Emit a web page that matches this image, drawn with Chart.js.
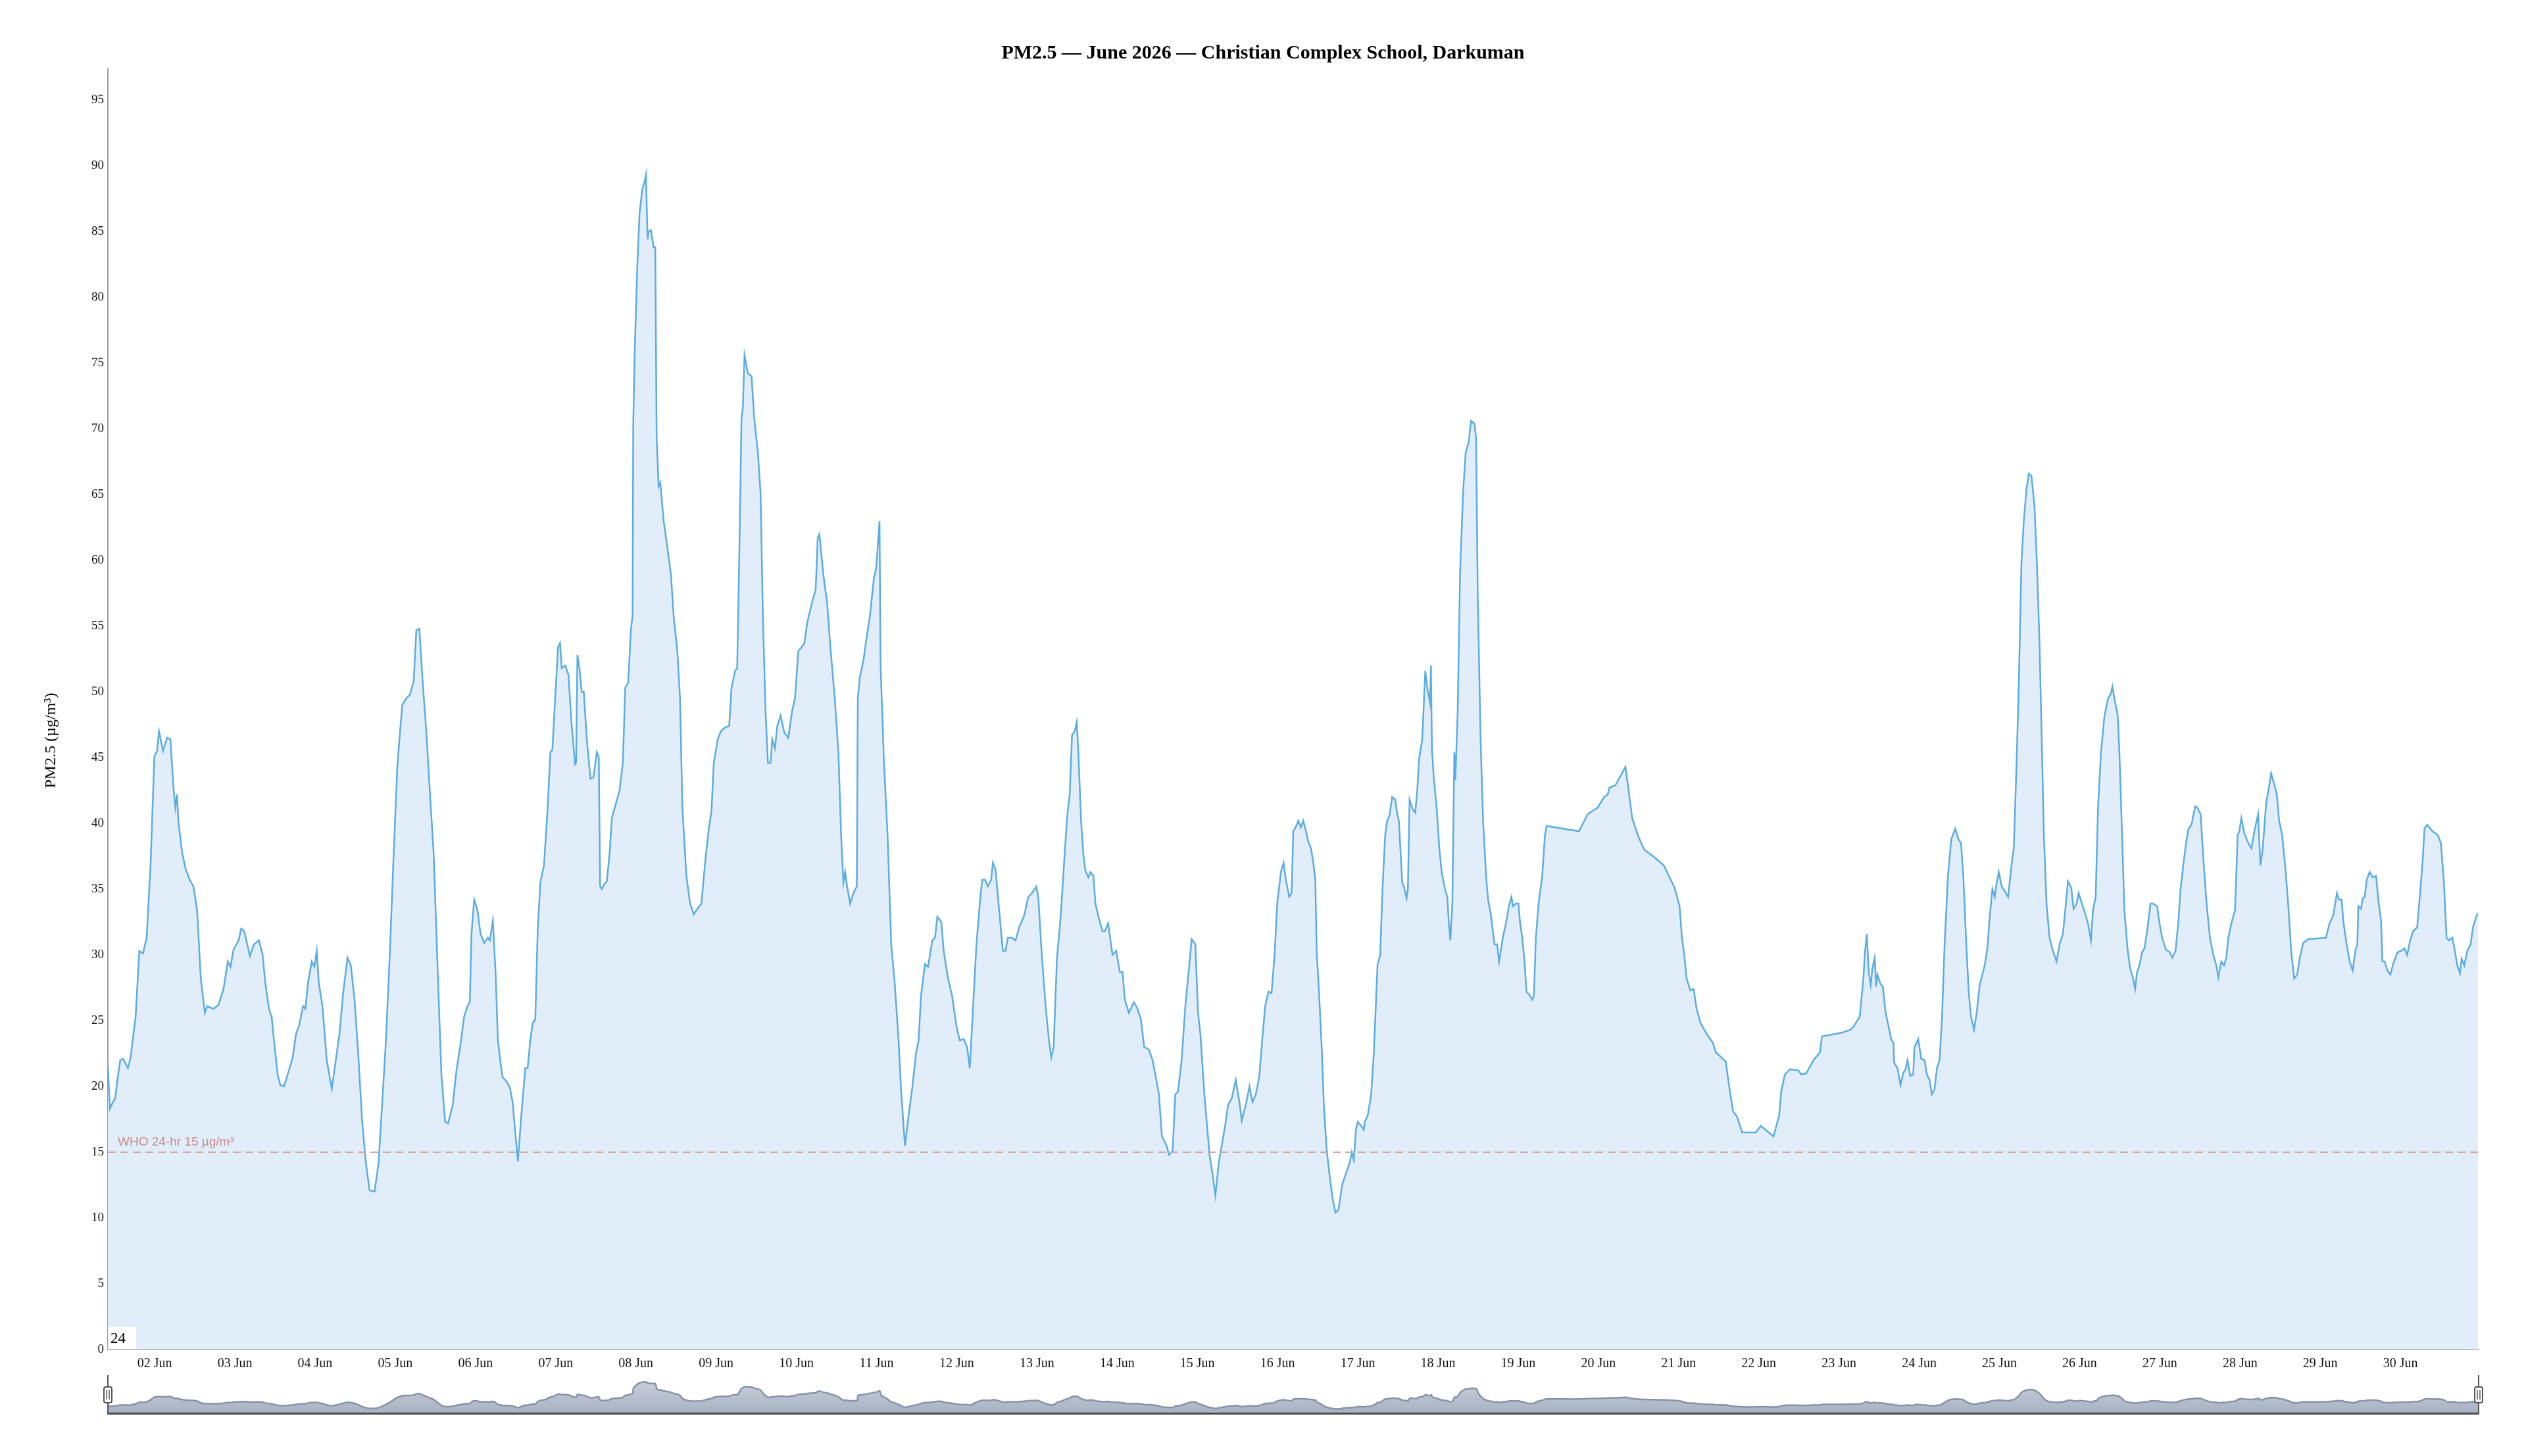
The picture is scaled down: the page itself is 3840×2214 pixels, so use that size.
<!DOCTYPE html>
<html><head><meta charset="utf-8">
<script src="https://cdn.jsdelivr.net/npm/chart.js@4.4.1/dist/chart.umd.min.js"></script>
<style>
html,body{margin:0;padding:0;background:#fff;}
#wrap{position:relative;width:3840px;height:2214px;overflow:hidden;}
#main{position:absolute;left:0;top:0;width:3840px;height:2214px;}
#mini{position:absolute;left:0;top:2085px;width:3840px;height:75px;}
</style></head><body>
<div id="wrap"><canvas id="main" width="3840" height="2214"></canvas><canvas id="mini" width="3840" height="75"></canvas></div>
<script>
// ---------- texts ----------
const TITLE = 'PM2.5 — June 2026 — Christian Complex School, Darkuman';
const Y_TITLE = 'PM2.5 (µg/m³)';
const WHO_LIMIT = 15;
const WHO_LABEL = 'WHO 24-hr 15 µg/m³';
const CORNER_LABEL = '24';

// ---------- axes ----------
const xRange = [10, 719.2];            // hours since 01 Jun 00:00
const yMax = 97.35;
const yTicks = [0,5,10,15,20,25,30,35,40,45,50,55,60,65,70,75,80,85,90,95];
const dayTicks = [24,48,72,96,120,144,168,192,216,240,264,288,312,336,360,384,408,432,456,480,504,528,552,576,600,624,648,672,696];
const dayLabels = ['02 Jun','03 Jun','04 Jun','05 Jun','06 Jun','07 Jun','08 Jun','09 Jun','10 Jun','11 Jun','12 Jun','13 Jun','14 Jun','15 Jun','16 Jun','17 Jun','18 Jun','19 Jun','20 Jun','21 Jun','22 Jun','23 Jun','24 Jun','25 Jun','26 Jun','27 Jun','28 Jun','29 Jun','30 Jun'];

// ---------- readings: [hour since 01 Jun 00:00, PM2.5 µg/m³] ----------
const seg1 = [[10,21.5],[10.6,18.3],[11.5,18.8],[12.2,19.1],[12.8,20.4],[13.7,22.0],[14.5,22.1],[16.0,21.4],[16.8,22.2],[18.3,25.3],[19.4,30.3],[20.5,30.1],[21.6,31.3],[22.8,37.0],[23.9,45.1],[24.7,45.5],[25.3,47.0],[26.5,45.5],[27.7,46.5],[28.7,46.4],[29.6,42.8],[30.2,41.2],[30.7,42.2],[31.1,40.1],[32.2,37.8],[33.3,36.5],[34.5,35.7],[35.6,35.2],[36.7,33.4],[37.8,28.2],[39.0,25.6],[39.7,26.1],[41.6,25.9],[43.1,26.2],[44.6,27.4],[45.9,29.5],[46.7,29.1],[47.6,30.4],[49.1,31.1],[49.9,32.0],[50.8,31.8],[52.5,29.9],[53.7,30.8],[55.2,31.1],[56.3,30.0],[57.1,27.9],[58.2,25.9],[59.0,25.3],[59.7,23.5],[60.8,20.9],[61.6,20.1],[62.7,20.0],[63.8,20.9],[65.3,22.2],[66.3,24.0],[67.2,24.6],[68.4,26.1],[69.1,25.9],[69.9,27.9],[71.0,29.5],[71.8,29.1],[72.5,30.3],[73.1,27.9],[74.2,26.1],[75.5,22.0],[77.0,19.8],[78.2,22.0],[79.3,24.0],[80.4,27.1],[81.7,29.8],[82.7,29.2],[83.8,26.6],[84.9,22.5],[86.1,17.3],[87.2,14.2],[88.3,12.1],[89.8,12.0],[91.0,14.2],[92.1,18.8],[93.2,23.5],[94.4,30.3],[95.5,37.6],[96.6,44.3],[97.4,46.9],[98.1,49.0],[99.3,49.5],[100.4,49.8],[101.5,50.8],[102.3,54.7],[103.2,54.8],[104.1,51.1],[105.3,46.9],[106.4,42.2],[107.5,37.6],[108.7,28.7],[109.8,20.9],[110.9,17.3],[111.8,17.2],[113.2,18.6],[114.3,21.2],[115.4,23.0],[116.6,25.3],[117.6,26.1],[118.3,26.4],[118.8,31.6],[119.6,34.2],[120.6,33.4],[121.5,31.6],[122.6,30.9],[123.7,31.3],[124.3,31.1],[125.2,32.6],[126.0,28.7],[126.7,23.5]];
const seg2 = [[127.5,21.8],[128.1,20.7],[129.2,20.4],[130.3,19.9],[131.1,18.8],[131.8,16.8],[132.7,14.3],[133.7,17.8],[134.9,21.4],[135.6,21.4],[136.4,23.5],[137.1,24.8],[137.9,25.1],[138.6,31.8],[139.4,35.5],[140.5,36.8],[141.6,41.2],[142.4,45.4],[143.0,45.6],[143.9,49.8],[144.7,53.4],[145.3,53.7],[145.8,51.8],[146.9,52.0],[147.8,51.3],[148.8,47.4],[149.8,44.5],[150.1,44.6],[150.5,52.8],[151.1,51.8],[151.8,50.0],[152.4,50.0],[153.3,46.4],[154.4,43.4],[155.3,43.5],[156.3,45.4],[156.9,45.0],[157.3,35.2],[157.8,35.0],[158.6,35.4],[159.3,35.6],[160.1,37.6],[160.8,40.4],[162.0,41.5],[163.1,42.5],[164.1,44.6],[164.8,50.3],[165.7,50.7],[166.5,54.7],[167.0,55.8],[167.2,70.3],[167.6,75.5],[168.4,82.3],[169.1,86.4],[169.9,88.2],[170.6,88.8],[171.0,89.3],[171.5,84.4],[171.8,85.0],[172.5,85.1],[173.3,83.8],[173.8,83.8],[174.2,69.3],[174.8,65.6],[175.3,65.9],[176.3,63.0],[177.4,61.0],[178.5,58.9],[179.3,55.7],[180.4,53.1],[181.2,49.5],[181.9,41.2],[183.1,36.0],[184.2,33.9],[185.3,33.1],[186.4,33.5],[187.6,33.9],[188.7,37.0],[189.8,39.6],[190.6,40.9],[191.3,44.6],[192.5,46.4],[193.4,47.0],[194.7,47.3],[195.9,47.4],[196.6,50.3],[197.7,51.6],[198.3,51.8],[198.9,59.9],[199.6,70.8],[200.0,71.6],[200.5,75.6],[201.5,74.2],[202.6,74.0],[203.4,70.8],[204.5,68.2],[205.3,65.1],[206.0,55.7],[206.8,48.5],[207.5,44.6],[208.3,44.6],[208.8,46.4],[209.6,45.7],[210.3,47.4],[211.3,48.2],[212.4,46.9],[213.6,46.5],[214.7,48.5],[215.6,49.5],[216.6,53.1],[217.3,53.3],[218.4,53.7],[219.3,55.3],[220.7,56.8],[221.8,57.8],[222.4,61.7],[222.9,62.0],[224.1,58.9],[225.2,56.8],[226.3,53.1],[227.5,49.5],[228.6,45.4],[229.4,39.1],[230.1,35.5],[230.6,36.3],[231.2,35.2],[232.1,33.9],[233.1,34.7],[234.1,35.2],[234.4,49.5],[235.0,51.1],[236.1,52.4],[236.9,53.9],[238.0,55.7],[239.2,58.6],[239.9,59.4],[240.9,63.0],[241.2,52.1],[242.2,44.8],[243.3,39.1],[244.4,30.8],[245.4,28.0]];
const seg3 = [[246.6,23.5],[247.3,19.9],[248.5,15.5],[249.6,17.8],[250.7,19.9],[251.8,22.5],[252.6,23.5],[253.3,26.9],[254.5,29.3],[255.4,29.1],[256.7,31.1],[257.5,31.3],[258.2,32.9],[259.4,32.5],[260.1,30.3],[261.4,28.2],[262.6,26.9],[263.9,24.6],[264.9,23.5],[266.1,23.6],[267.1,23.0],[267.9,21.4],[268.8,25.6],[269.9,30.8],[270.9,33.9],[271.6,35.7],[272.5,35.7],[273.3,35.2],[274.3,35.7],[274.8,37.0],[275.6,36.5],[276.7,33.4],[277.8,30.3],[278.6,30.3],[279.3,31.3],[280.5,31.3],[281.6,31.1],[282.7,32.1],[284.2,33.0],[285.4,34.4],[286.5,34.7],[287.8,35.2],[288.4,34.4],[289.5,29.8],[290.6,26.1],[291.6,23.5],[292.3,22.2],[293.0,23.0],[294.0,29.8],[295.1,32.9],[296.0,36.5],[297.0,40.4],[297.8,42.2],[298.5,46.7],[299.3,47.0],[299.9,47.7],[300.4,45.4],[301.2,40.2],[301.9,37.6],[302.5,36.4],[303.4,35.9],[304.0,36.3],[304.9,36.0],[305.5,33.9],[306.4,32.9],[307.6,31.8],[308.3,31.8],[309.3,32.4],[310.6,30.0],[311.7,30.3],[312.8,28.7],[313.6,28.7],[314.3,26.6],[315.5,25.6],[317.0,26.4],[318.1,25.9],[319.1,25.1],[320.1,23.0],[321.5,22.8],[322.6,22.0],[323.8,20.4],[324.5,19.4],[325.4,16.2],[326.8,15.5],[327.5,14.8],[328.6,15.1],[329.4,19.4],[330.2,19.6],[331.3,22.0],[332.4,26.1],[333.5,29.0],[334.3,31.2],[335.4,30.8],[336.2,25.6],[336.9,24.0],[338.1,19.4],[338.8,17.3],[339.7,14.7],[340.7,13.1],[341.4,11.7],[342.4,14.2],[343.3,15.5],[344.5,17.3],[345.2,18.6],[346.3,19.1],[347.5,20.5],[348.6,18.8],[349.3,17.4],[350.5,18.6],[351.6,20.0],[352.5,18.8],[353.5,19.4],[354.5,20.7],[355.4,23.5],[356.3,26.1],[357.3,27.2],[358.2,27.1],[359.1,30.0],[359.9,33.9],[361.0,36.3],[361.8,37.0],[362.5,35.7],[363.5,34.4]];
const seg4 = [[364.2,34.7],[364.7,39.4],[365.4,39.7],[366.2,40.2],[367.0,39.7],[367.7,40.2],[368.5,39.4],[369.2,38.6],[370.0,38.1],[370.7,37.0],[371.3,35.7],[371.7,30.3],[372.4,27.2],[373.2,23.0],[373.9,18.3],[374.7,15.2],[375.4,13.6],[376.4,11.6],[377.3,10.4],[378.2,10.6],[379.4,12.6],[380.5,13.4],[381.6,14.2],[382.2,15.0],[382.8,14.4],[383.5,16.8],[384.0,17.3],[385.0,17.0],[385.8,16.7],[386.1,17.3],[387.0,17.8],[388.0,19.4],[388.8,22.5],[389.9,29.2],[390.7,30.0],[391.4,35.0],[392.2,39.1],[392.8,40.2],[393.5,40.6],[394.3,42.0],[395.2,41.8],[395.8,40.7],[396.3,40.2],[397.3,35.5],[397.8,35.2],[398.6,34.3],[399.0,35.0],[399.5,41.8],[400.4,41.1],[401.2,40.8],[401.8,42.5],[402.3,44.8],[403.3,46.4],[404.2,51.6],[404.8,50.3],[405.6,49.2],[405.9,52.0],[406.2,45.6],[406.8,43.3],[407.6,41.2],[408.4,38.1],[409.1,36.3],[410.1,35.0],[410.8,34.4],[411.2,32.6],[411.7,31.1],[412.3,33.9],[412.9,45.4],[413.2,43.3],[413.9,48.5],[414.6,58.9],[415.5,65.1],[416.3,68.2],[417.2,69.0],[417.9,70.6],[418.9,70.4],[419.4,69.3],[419.9,57.3],[420.8,45.9],[421.5,40.2],[422.4,36.0],[423.0,34.2],[423.8,33.1],[424.9,30.8],[425.7,30.8],[426.3,29.5],[427.4,31.3],[428.5,32.6],[429.2,33.7],[430.0,34.4],[430.4,33.7],[431.3,33.9],[432.1,33.9],[432.5,32.6],[433.2,31.3],[433.8,29.8],[434.5,27.2],[435.5,26.9],[436.2,26.6],[436.7,26.9],[437.3,31.3],[438.1,33.9],[439.2,36.0],[440.0,39.1],[440.5,39.8],[450.2,39.4],[452.8,40.7],[455.8,41.2],[457.7,42.0],[458.8,42.2],[459.3,42.7],[461.1,42.9],[464.1,44.3],[465.2,42.2],[466.1,40.4],[467.8,39.1],[469.7,38.0],[472.4,37.5],[475.6,36.8],[477.3,35.9],[478.8,35.1],[480.3,33.7],[481.0,31.3]];
const seg5 = [[481.7,30.0],[482.4,28.2],[483.5,27.3],[484.5,27.4],[485.4,25.9],[486.6,24.8],[488.4,24.0],[490.3,23.3],[491.1,22.6],[494.1,21.9],[495.2,19.9],[496.3,18.1],[497.5,17.7],[499.0,16.5],[503.1,16.5],[504.6,17.0],[508.4,16.2],[510.1,17.8],[510.7,19.6],[511.8,20.9],[513.3,21.3],[515.9,21.2],[516.7,20.9],[518.2,21.0],[520.4,22.0],[522.3,22.6],[522.9,23.8],[529.1,24.1],[531.4,24.3],[532.5,24.6],[534.2,25.3],[535.3,28.2],[535.7,30.0],[536.3,31.6],[536.9,28.7],[537.5,27.7],[538.0,29.0],[538.7,29.8],[539.1,27.6],[539.5,28.5],[540.4,27.8],[541.1,27.6],[541.9,25.7],[542.8,24.6],[543.6,23.6],[544.3,23.3],[544.5,21.8],[545.5,21.4],[546.4,20.1],[547.2,21.0],[547.9,21.3],[548.5,22.0],[549.3,20.8],[550.2,20.9],[550.6,23.0],[551.7,23.6],[552.6,22.1],[553.6,22.0],[554.3,20.9],[555.1,20.5],[555.8,19.4],[556.6,19.8],[557.3,21.4],[558.1,22.0],[558.8,25.1],[559.6,30.8],[560.6,36.0],[561.6,38.8],[562.8,39.6],[563.7,38.8],[564.5,38.5],[565.2,36.0],[566.0,31.3],[566.8,27.2],[567.5,25.3],[568.4,24.3],[569.2,25.6],[570.1,27.7],[570.9,28.5],[571.6,29.2],[572.4,30.5],[573.1,32.9],[573.9,35.0],[574.6,34.4],[575.0,35.2],[575.8,36.3],[576.7,35.2],[577.7,34.8],[578.6,34.4],[579.6,36.8],[580.3,38.1],[581.1,44.3],[581.8,50.6],[582.6,59.9],[583.3,63.0],[584.1,65.4],[584.8,66.6],[585.6,66.4],[586.5,64.1],[587.2,59.9],[588.0,53.7],[588.7,45.9],[589.3,39.1],[590.1,33.9],[591.0,31.3],[592.0,30.3],[593.1,29.5],[594.0,30.8],[595.0,31.6],[595.7,33.4],[596.5,35.6],[597.5,35.1],[598.2,33.5],[599.1,33.9],[599.7,34.7]];
const seg6 = [[601.7,33.1],[602.5,32.4],[603.4,31.1],[604.0,33.4],[604.8,34.4],[605.5,41.2],[606.4,45.4],[607.4,48.1],[608.5,49.5],[609.3,49.8],[609.8,50.4],[610.4,49.5],[611.4,48.2],[611.9,45.4],[612.7,39.1],[613.4,33.4],[614.4,30.3],[615.1,29.0],[616.0,28.2],[616.6,27.4],[617.2,28.7],[617.9,29.2],[618.7,30.2],[619.4,30.5],[620.2,31.8],[621.2,33.9],[621.9,33.9],[623.2,33.7],[623.9,32.4],[624.7,31.3],[625.8,30.4],[627.0,30.2],[627.7,29.8],[628.7,30.3],[629.5,32.4],[630.2,35.0],[631.1,37.0],[631.9,38.6],[632.6,39.6],[633.5,39.9],[634.1,40.7],[634.6,41.3],[635.2,41.2],[636.2,40.7],[637.1,37.0],[638.0,33.9],[639.0,31.3],[640.0,30.0],[640.9,29.2],[641.5,28.3],[642.4,29.5],[643.2,29.2],[643.9,29.8],[644.5,31.3],[645.4,32.4],[646.5,33.4],[647.3,39.1],[647.8,39.4],[648.4,40.4],[649.3,39.2],[650.3,38.6],[651.4,38.1],[652.3,39.4],[653.4,40.7],[654.1,36.8],[654.8,38.1],[655.8,41.5],[656.7,42.8],[657.3,43.8],[658.2,43.0],[659.0,42.2],[659.7,40.2],[660.6,39.1],[661.6,36.5],[662.4,33.9],[663.3,30.3],[664.2,28.2],[665.1,28.5],[665.9,29.8],[666.9,30.9],[668.4,31.2],[673.7,31.3],[674.8,32.4],[675.9,33.0],[677.0,34.7],[677.6,34.2],[678.4,34.2],[678.9,32.6],[679.9,30.8],[680.8,29.5],[681.7,28.8],[682.5,30.3],[683.1,30.8],[683.4,33.7],[684.2,33.5],[684.7,34.3],[685.3,34.4],[685.9,35.7],[686.8,36.3],[687.7,35.9],[688.7,36.0],[689.5,33.9],[690.2,32.6],[690.6,29.5],[691.3,29.5],[692.1,28.8],[693.0,28.5],[693.8,29.3],[695.1,30.2],[696.2,30.3],[697.2,30.5],[698.0,30.0],[698.9,31.1],[699.8,31.8],[701.0,32.1],[701.9,34.7],[702.6,37.0],[703.2,39.6],[704.0,39.9],[705.6,39.4],[707.2,39.1],[708.1,38.5],[709.0,35.5],[709.8,31.3],[710.5,31.1],[711.5,31.3],[712.3,30.3],[713.0,29.2],[713.8,28.6],[714.3,29.7],[715.1,29.2],[716.0,30.3],[717.0,30.8],[717.7,32.1],[718.8,33.0],[719.2,33.2]];

// ---------- build ----------
const series = [].concat(seg1, seg2, seg3, seg4, seg5, seg6).map(([x, y]) => ({x, y}));
const SERIF = "'Liberation Serif','Times New Roman',serif";
const SANS = "'Liberation Sans',Arial,sans-serif";

const overlay = {
  id: 'overlay',
  afterDraw(chart) {
    const {ctx, chartArea: a, scales} = chart;
    ctx.save();
    // WHO label
    ctx.font = '19px ' + SANS;
    ctx.fillStyle = '#c98b8b';
    ctx.textAlign = 'left';
    ctx.textBaseline = 'bottom';
    ctx.fillText(WHO_LABEL, a.left + 15, scales.y.getPixelForValue(WHO_LIMIT) - 6);
    // corner box
    ctx.fillStyle = '#ffffff';
    ctx.fillRect(a.left + 1, a.bottom - 34, 42, 33);
    ctx.fillStyle = '#000';
    ctx.font = '23px ' + SERIF;
    ctx.textBaseline = 'alphabetic';
    ctx.fillText(CORNER_LABEL, a.left + 4, a.bottom - 10);
    // y title
    ctx.translate(78, 1126);
    ctx.rotate(-Math.PI / 2);
    ctx.textAlign = 'center';
    ctx.textBaseline = 'middle';
    ctx.font = '24px ' + SERIF;
    ctx.fillStyle = '#000';
    ctx.fillText(Y_TITLE, 0, 0);
    ctx.restore();
  }
};

new Chart(document.getElementById('main'), {
  type: 'line',
  data: {
    datasets: [
      {data: series, borderColor: '#5aace3', borderWidth: 2.5, backgroundColor: 'rgb(225,238,250)', fill: 'origin', pointRadius: 0, tension: 0, order: 2},
      {data: [{x: xRange[0], y: WHO_LIMIT}, {x: xRange[1], y: WHO_LIMIT}], borderColor: '#d5a6a6', borderWidth: 2, borderDash: [12, 7], pointRadius: 0, fill: false, order: 1}
    ]
  },
  options: {
    responsive: false, devicePixelRatio: 1, animation: false,
    layout: {padding: {left: 0, right: 0, top: 0, bottom: 112}},
    plugins: {
      legend: {display: false}, tooltip: {enabled: false},
      title: {display: true, text: TITLE, color: '#000', font: {family: SERIF, size: 30, weight: 'bold'}, padding: {top: 63, bottom: 6}}
    },
    scales: {
      x: {
        type: 'linear', min: xRange[0], max: xRange[1],
        afterBuildTicks: s => { s.ticks = dayTicks.map(v => ({value: v})); },
        afterFit: s => { s.height = 50; },
        grid: {display: false, drawTicks: false},
        border: {display: true, color: '#9a9a9a', width: 2},
        ticks: {autoSkip: false, maxRotation: 0, padding: 10, color: '#111', font: {family: SERIF, size: 20},
          callback: v => { const i = dayTicks.indexOf(v); return i >= 0 ? dayLabels[i] : ''; }}
      },
      y: {
        min: 0, max: yMax,
        afterBuildTicks: s => { s.ticks = yTicks.map(v => ({value: v})); },
        afterFit: s => { s.width = 164; },
        grid: {display: false, drawTicks: false},
        border: {display: true, color: '#9a9a9a', width: 2},
        ticks: {padding: 6, color: '#111', font: {family: SERIF, size: 19}}
      },
      yPad: {
        position: 'right', min: 0, max: 1,
        afterFit: s => { s.width = 73; },
        grid: {display: false, drawTicks: false},
        border: {display: false},
        ticks: {display: false}
      }
    }
  },
  plugins: [overlay]
});

// ---------- slider overview ----------
const sliderDeco = {
  id: 'sliderDeco',
  afterDraw(chart) {
    const {ctx, chartArea: a} = chart;
    ctx.save();
    ctx.strokeStyle = '#4a4a4a';
    ctx.lineWidth = 3;
    ctx.beginPath(); ctx.moveTo(a.left, a.bottom + 1.5); ctx.lineTo(a.right, a.bottom + 1.5); ctx.stroke();
    ctx.lineWidth = 2;
    ctx.strokeStyle = '#555';
    [a.left, a.right].forEach(x => {
      ctx.beginPath(); ctx.moveTo(x, 6); ctx.lineTo(x, a.bottom + 3); ctx.stroke();
      const l = x - 6, t = 24, w = 12, h = 24, r = 3;
      ctx.beginPath();
      ctx.moveTo(l + r, t); ctx.lineTo(l + w - r, t); ctx.quadraticCurveTo(l + w, t, l + w, t + r);
      ctx.lineTo(l + w, t + h - r); ctx.quadraticCurveTo(l + w, t + h, l + w - r, t + h);
      ctx.lineTo(l + r, t + h); ctx.quadraticCurveTo(l, t + h, l, t + h - r);
      ctx.lineTo(l, t + r); ctx.quadraticCurveTo(l, t, l + r, t);
      ctx.closePath();
      ctx.fillStyle = '#fff'; ctx.fill();
      ctx.lineWidth = 2; ctx.stroke();
      ctx.lineWidth = 1.5;
      ctx.beginPath(); ctx.moveTo(x - 2, t + 5); ctx.lineTo(x - 2, t + h - 5); ctx.moveTo(x + 2, t + 5); ctx.lineTo(x + 2, t + h - 5); ctx.stroke();
      ctx.lineWidth = 2;
    });
    ctx.restore();
  }
};

new Chart(document.getElementById('mini'), {
  type: 'line',
  data: {
    datasets: [{
      data: series, borderColor: '#8692a8', borderWidth: 2.5, pointRadius: 0, tension: 0.4, fill: 'origin',
      backgroundColor: c => {
        const a = c.chart.chartArea;
        if (!a) return '#b4bccb';
        const g = c.chart.ctx.createLinearGradient(0, a.top, 0, a.bottom);
        g.addColorStop(0, '#cdd3de'); g.addColorStop(1, '#a9b2c3');
        return g;
      }
    }]
  },
  options: {
    responsive: false, devicePixelRatio: 1, animation: false,
    layout: {padding: {left: 164, right: 72, top: 8, bottom: 12}},
    plugins: {legend: {display: false}, tooltip: {enabled: false}, title: {display: false}},
    scales: {
      x: {type: 'linear', display: false, min: xRange[0], max: xRange[1]},
      y: {display: false, min: 0, max: 105}
    }
  },
  plugins: [sliderDeco]
});
</script>
</body></html>
